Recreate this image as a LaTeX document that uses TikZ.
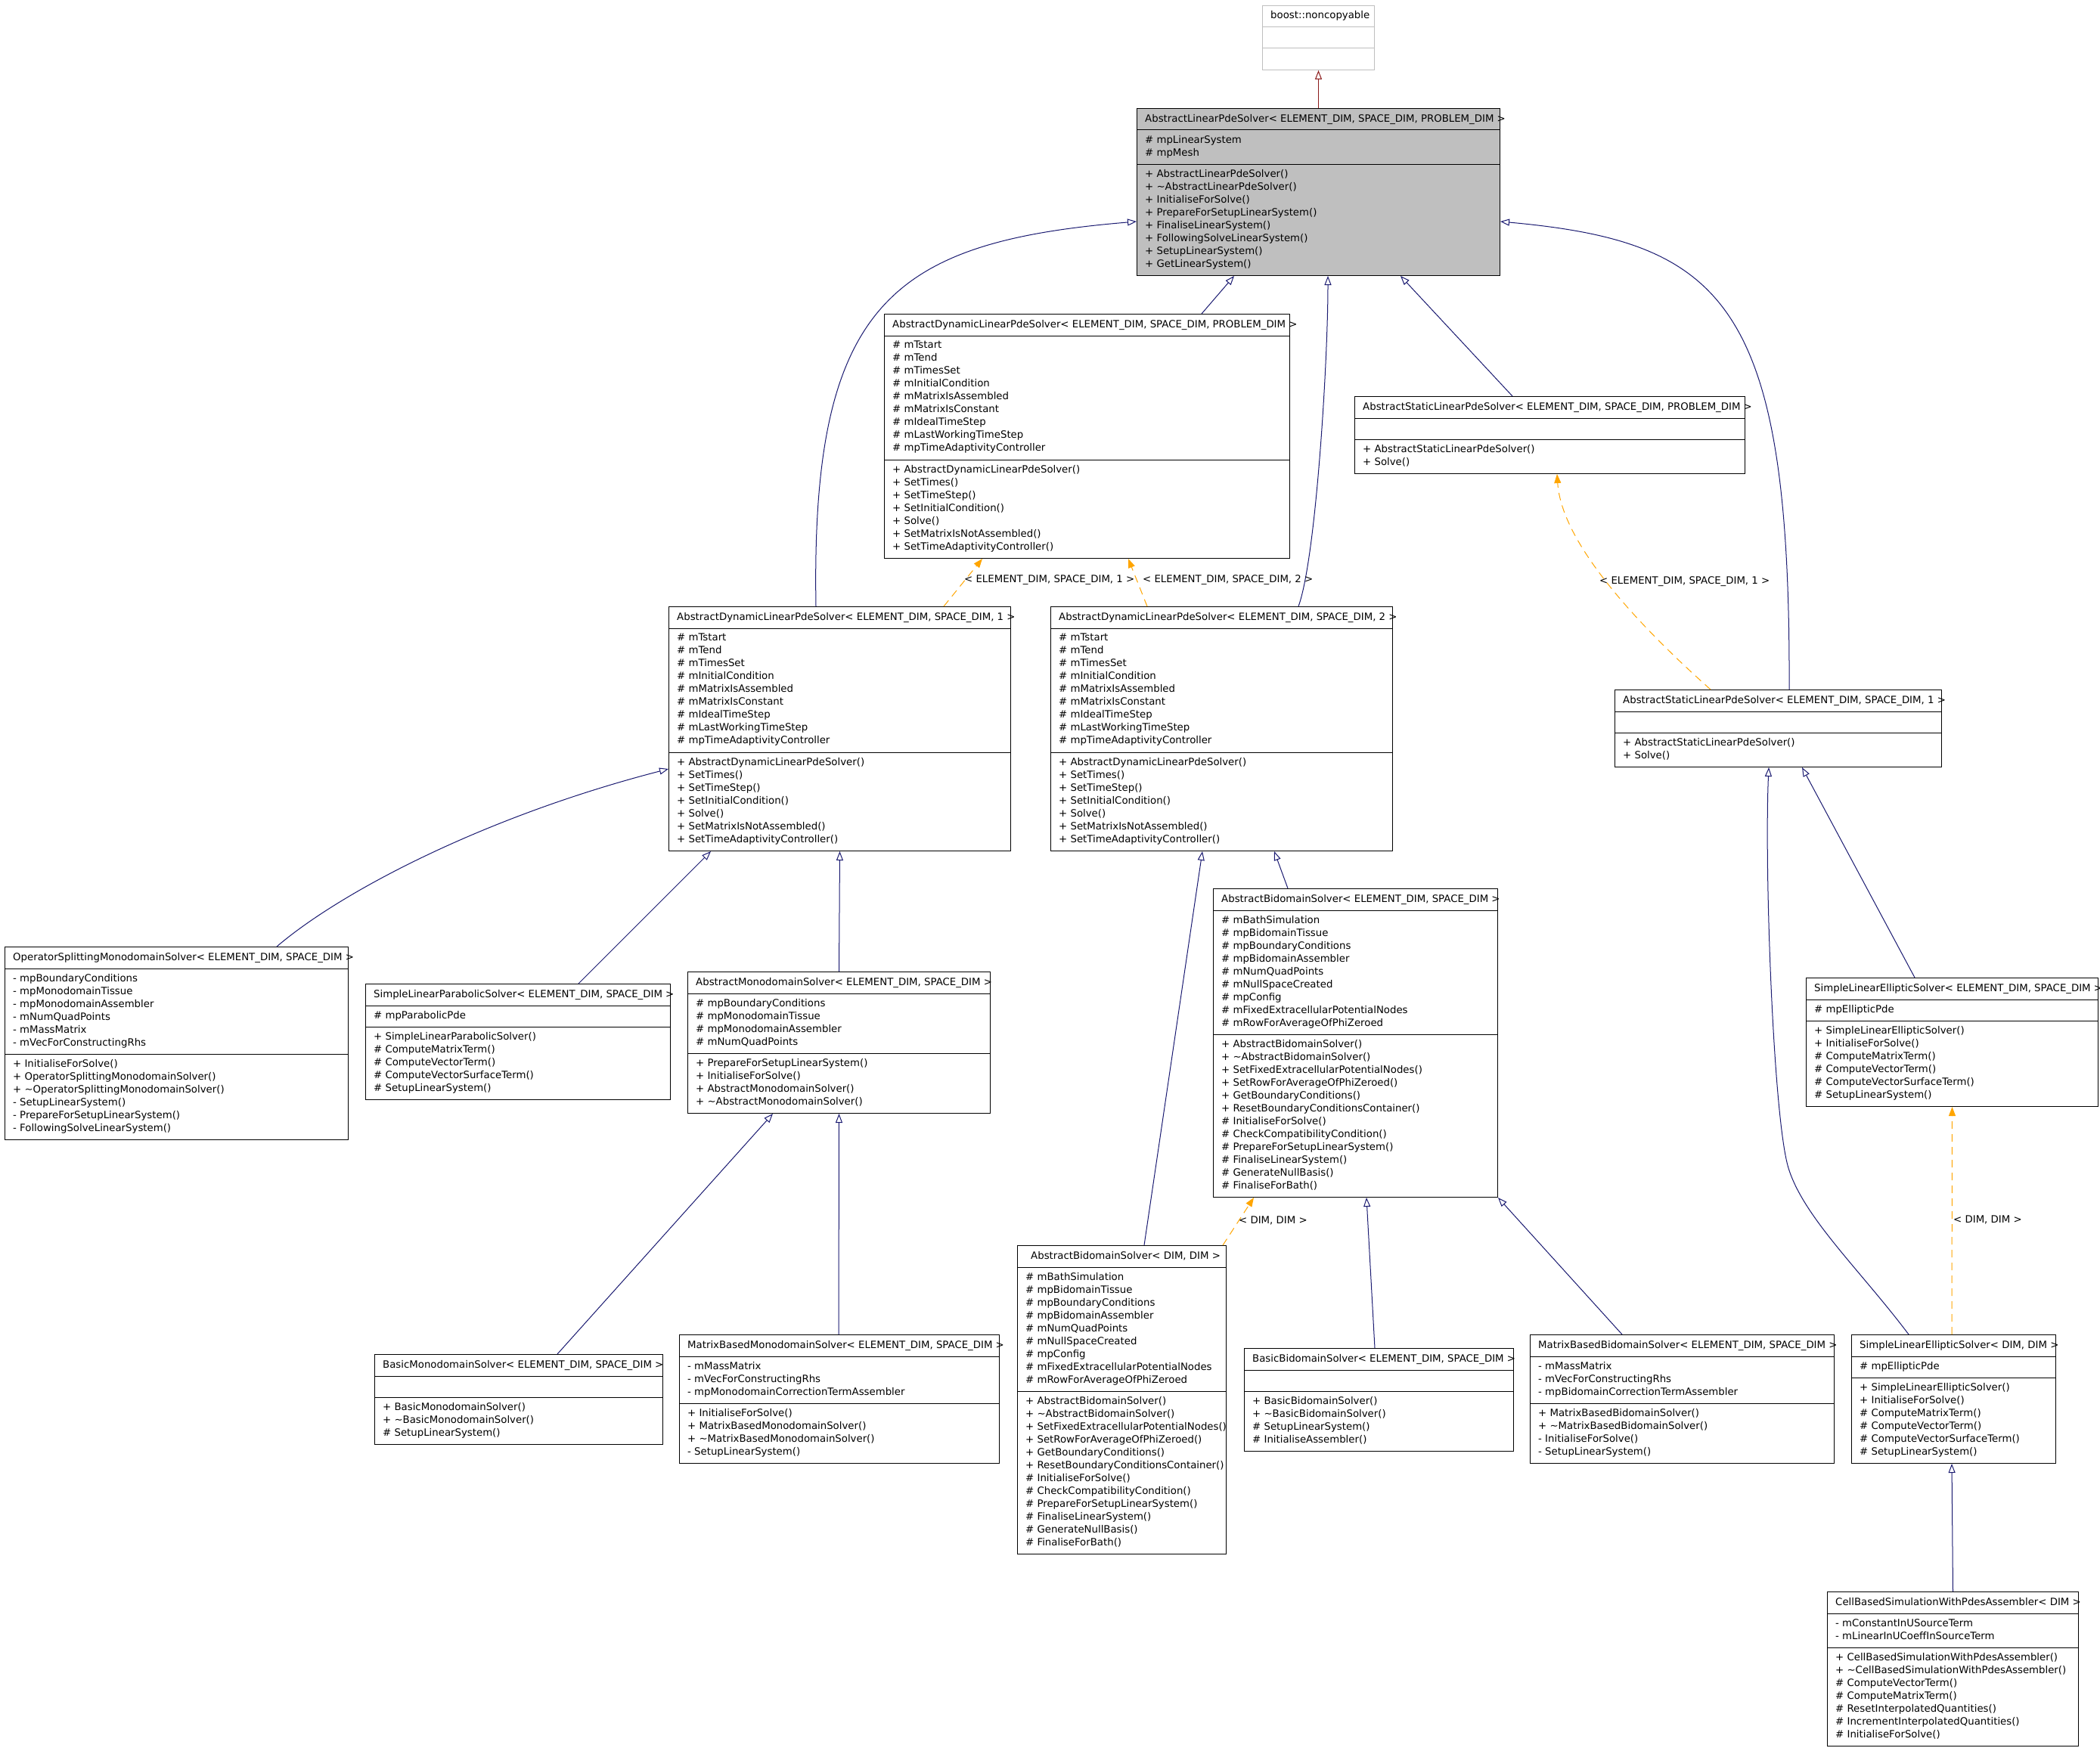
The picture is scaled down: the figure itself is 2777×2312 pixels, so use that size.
\documentclass[tikz,border=0pt]{standalone}
\usepackage{fontspec}
\setmainfont{DejaVu Sans}
\usetikzlibrary{arrows.meta}
\definecolor{inhblue}{HTML}{191970}
\definecolor{privred}{HTML}{8B1A1A}
\definecolor{tplorange}{HTML}{FFA500}
\definecolor{boxgray}{HTML}{BFBFBF}

\begin{document}
\begin{tikzpicture}[x=1pt, y=-1pt, font=\fontsize{13.3}{17}\selectfont,
    cls/.style={draw, line width=1pt, inner sep=0, anchor=north west},
    sep/.style={line width=1pt},
    ttl/.style={anchor=base west, inner sep=0},
    mem/.style={anchor=north west, inner sep=0, align=left},
    lbl/.style={anchor=base west, inner sep=0},
    inh/.style={inhblue, line width=1pt, -{Triangle[open, length=12pt, width=9pt]}},
    priv/.style={privred, line width=1pt, -{Triangle[open, length=12pt, width=9pt]}},
    tpl/.style={tplorange, line width=1pt, dash pattern=on 10pt off 7pt, -{Triangle[length=12pt, width=9pt]}}]
    \useasboundingbox (0,0) rectangle (2777,2312);

    \node[cls, draw=boxgray, minimum width=148, minimum height=85] (nonc) at (1669,7) {};
    \draw[sep, boxgray] ([yshift=-29]nonc.north west) -- ([yshift=-29]nonc.north east) ([yshift=-57]nonc.north west) -- ([yshift=-57]nonc.north east);
    \node[ttl] (nonc-t) at ([xshift=11,yshift=-18]nonc.north west) {boost::noncopyable};

    \node[cls, fill=boxgray, minimum width=480, minimum height=221] (als) at (1503,143) {};
    \draw[sep] ([yshift=-29]als.north west) -- ([yshift=-29]als.north east) ([yshift=-74]als.north west) -- ([yshift=-74]als.north east);
    \node[ttl] (als-t) at ([xshift=11,yshift=-18]als.north west) {AbstractLinearPdeSolver< ELEMENT\_DIM, SPACE\_DIM, PROBLEM\_DIM >};
    \node[mem] (als-a) at ([xshift=11,yshift=-36]als.north west) {\# mpLinearSystem\\\# mpMesh};
    \node[mem] (als-m) at ([xshift=11,yshift=-81]als.north west) {+ AbstractLinearPdeSolver()\\+ \textasciitilde AbstractLinearPdeSolver()\\+ InitialiseForSolve()\\+ PrepareForSetupLinearSystem()\\+ FinaliseLinearSystem()\\+ FollowingSolveLinearSystem()\\+ SetupLinearSystem()\\+ GetLinearSystem()};

    \node[cls, minimum width=536, minimum height=323] (dynP) at (1169,415) {};
    \draw[sep] ([yshift=-29]dynP.north west) -- ([yshift=-29]dynP.north east) ([yshift=-193]dynP.north west) -- ([yshift=-193]dynP.north east);
    \node[ttl] (dynP-t) at ([xshift=11,yshift=-18]dynP.north west) {AbstractDynamicLinearPdeSolver< ELEMENT\_DIM, SPACE\_DIM, PROBLEM\_DIM >};
    \node[mem] (dynP-a) at ([xshift=11,yshift=-36]dynP.north west) {\# mTstart\\\# mTend\\\# mTimesSet\\\# mInitialCondition\\\# mMatrixIsAssembled\\\# mMatrixIsConstant\\\# mIdealTimeStep\\\# mLastWorkingTimeStep\\\# mpTimeAdaptivityController};
    \node[mem] (dynP-m) at ([xshift=11,yshift=-200]dynP.north west) {+ AbstractDynamicLinearPdeSolver()\\+ SetTimes()\\+ SetTimeStep()\\+ SetInitialCondition()\\+ Solve()\\+ SetMatrixIsNotAssembled()\\+ SetTimeAdaptivityController()};

    \node[cls, minimum width=516, minimum height=102] (statP) at (1791,524) {};
    \draw[sep] ([yshift=-29]statP.north west) -- ([yshift=-29]statP.north east) ([yshift=-57]statP.north west) -- ([yshift=-57]statP.north east);
    \node[ttl] (statP-t) at ([xshift=11,yshift=-18]statP.north west) {AbstractStaticLinearPdeSolver< ELEMENT\_DIM, SPACE\_DIM, PROBLEM\_DIM >};
    \node[mem] (statP-m) at ([xshift=11,yshift=-64]statP.north west) {+ AbstractStaticLinearPdeSolver()\\+ Solve()};

    \node[cls, minimum width=452, minimum height=323] (dyn1) at (884,802) {};
    \draw[sep] ([yshift=-29]dyn1.north west) -- ([yshift=-29]dyn1.north east) ([yshift=-193]dyn1.north west) -- ([yshift=-193]dyn1.north east);
    \node[ttl] (dyn1-t) at ([xshift=11,yshift=-18]dyn1.north west) {AbstractDynamicLinearPdeSolver< ELEMENT\_DIM, SPACE\_DIM, 1 >};
    \node[mem] (dyn1-a) at ([xshift=11,yshift=-36]dyn1.north west) {\# mTstart\\\# mTend\\\# mTimesSet\\\# mInitialCondition\\\# mMatrixIsAssembled\\\# mMatrixIsConstant\\\# mIdealTimeStep\\\# mLastWorkingTimeStep\\\# mpTimeAdaptivityController};
    \node[mem] (dyn1-m) at ([xshift=11,yshift=-200]dyn1.north west) {+ AbstractDynamicLinearPdeSolver()\\+ SetTimes()\\+ SetTimeStep()\\+ SetInitialCondition()\\+ Solve()\\+ SetMatrixIsNotAssembled()\\+ SetTimeAdaptivityController()};

    \node[cls, minimum width=452, minimum height=323] (dyn2) at (1389,802) {};
    \draw[sep] ([yshift=-29]dyn2.north west) -- ([yshift=-29]dyn2.north east) ([yshift=-193]dyn2.north west) -- ([yshift=-193]dyn2.north east);
    \node[ttl] (dyn2-t) at ([xshift=11,yshift=-18]dyn2.north west) {AbstractDynamicLinearPdeSolver< ELEMENT\_DIM, SPACE\_DIM, 2 >};
    \node[mem] (dyn2-a) at ([xshift=11,yshift=-36]dyn2.north west) {\# mTstart\\\# mTend\\\# mTimesSet\\\# mInitialCondition\\\# mMatrixIsAssembled\\\# mMatrixIsConstant\\\# mIdealTimeStep\\\# mLastWorkingTimeStep\\\# mpTimeAdaptivityController};
    \node[mem] (dyn2-m) at ([xshift=11,yshift=-200]dyn2.north west) {+ AbstractDynamicLinearPdeSolver()\\+ SetTimes()\\+ SetTimeStep()\\+ SetInitialCondition()\\+ Solve()\\+ SetMatrixIsNotAssembled()\\+ SetTimeAdaptivityController()};

    \node[cls, minimum width=432, minimum height=102] (stat1) at (2135,912) {};
    \draw[sep] ([yshift=-29]stat1.north west) -- ([yshift=-29]stat1.north east) ([yshift=-57]stat1.north west) -- ([yshift=-57]stat1.north east);
    \node[ttl] (stat1-t) at ([xshift=11,yshift=-18]stat1.north west) {AbstractStaticLinearPdeSolver< ELEMENT\_DIM, SPACE\_DIM, 1 >};
    \node[mem] (stat1-m) at ([xshift=11,yshift=-64]stat1.north west) {+ AbstractStaticLinearPdeSolver()\\+ Solve()};

    \node[cls, minimum width=454, minimum height=255] (opsplit) at (6,1252) {};
    \draw[sep] ([yshift=-29]opsplit.north west) -- ([yshift=-29]opsplit.north east) ([yshift=-142]opsplit.north west) -- ([yshift=-142]opsplit.north east);
    \node[ttl] (opsplit-t) at ([xshift=11,yshift=-18]opsplit.north west) {OperatorSplittingMonodomainSolver< ELEMENT\_DIM, SPACE\_DIM >};
    \node[mem] (opsplit-a) at ([xshift=11,yshift=-36]opsplit.north west) {- mpBoundaryConditions\\- mpMonodomainTissue\\- mpMonodomainAssembler\\- mNumQuadPoints\\- mMassMatrix\\- mVecForConstructingRhs};
    \node[mem] (opsplit-m) at ([xshift=11,yshift=-149]opsplit.north west) {+ InitialiseForSolve()\\+ OperatorSplittingMonodomainSolver()\\+ \textasciitilde OperatorSplittingMonodomainSolver()\\- SetupLinearSystem()\\- PrepareForSetupLinearSystem()\\- FollowingSolveLinearSystem()};

    \node[cls, minimum width=403, minimum height=153] (slparab) at (483,1301) {};
    \draw[sep] ([yshift=-29]slparab.north west) -- ([yshift=-29]slparab.north east) ([yshift=-57]slparab.north west) -- ([yshift=-57]slparab.north east);
    \node[ttl] (slparab-t) at ([xshift=11,yshift=-18]slparab.north west) {SimpleLinearParabolicSolver< ELEMENT\_DIM, SPACE\_DIM >};
    \node[mem] (slparab-a) at ([xshift=11,yshift=-36]slparab.north west) {\# mpParabolicPde};
    \node[mem] (slparab-m) at ([xshift=11,yshift=-64]slparab.north west) {+ SimpleLinearParabolicSolver()\\\# ComputeMatrixTerm()\\\# ComputeVectorTerm()\\\# ComputeVectorSurfaceTerm()\\\# SetupLinearSystem()};

    \node[cls, minimum width=400, minimum height=187] (absmono) at (909,1285) {};
    \draw[sep] ([yshift=-29]absmono.north west) -- ([yshift=-29]absmono.north east) ([yshift=-108]absmono.north west) -- ([yshift=-108]absmono.north east);
    \node[ttl] (absmono-t) at ([xshift=11,yshift=-18]absmono.north west) {AbstractMonodomainSolver< ELEMENT\_DIM, SPACE\_DIM >};
    \node[mem] (absmono-a) at ([xshift=11,yshift=-36]absmono.north west) {\# mpBoundaryConditions\\\# mpMonodomainTissue\\\# mpMonodomainAssembler\\\# mNumQuadPoints};
    \node[mem] (absmono-m) at ([xshift=11,yshift=-115]absmono.north west) {+ PrepareForSetupLinearSystem()\\+ InitialiseForSolve()\\+ AbstractMonodomainSolver()\\+ \textasciitilde AbstractMonodomainSolver()};

    \node[cls, minimum width=376, minimum height=408] (absbiES) at (1604,1175) {};
    \draw[sep] ([yshift=-29]absbiES.north west) -- ([yshift=-29]absbiES.north east) ([yshift=-193]absbiES.north west) -- ([yshift=-193]absbiES.north east);
    \node[ttl] (absbiES-t) at ([xshift=11,yshift=-18]absbiES.north west) {AbstractBidomainSolver< ELEMENT\_DIM, SPACE\_DIM >};
    \node[mem] (absbiES-a) at ([xshift=11,yshift=-36]absbiES.north west) {\# mBathSimulation\\\# mpBidomainTissue\\\# mpBoundaryConditions\\\# mpBidomainAssembler\\\# mNumQuadPoints\\\# mNullSpaceCreated\\\# mpConfig\\\# mFixedExtracellularPotentialNodes\\\# mRowForAverageOfPhiZeroed};
    \node[mem] (absbiES-m) at ([xshift=11,yshift=-200]absbiES.north west) {+ AbstractBidomainSolver()\\+ \textasciitilde AbstractBidomainSolver()\\+ SetFixedExtracellularPotentialNodes()\\+ SetRowForAverageOfPhiZeroed()\\+ GetBoundaryConditions()\\+ ResetBoundaryConditionsContainer()\\\# InitialiseForSolve()\\\# CheckCompatibilityCondition()\\\# PrepareForSetupLinearSystem()\\\# FinaliseLinearSystem()\\\# GenerateNullBasis()\\\# FinaliseForBath()};

    \node[cls, minimum width=386, minimum height=170] (slellES) at (2388,1293) {};
    \draw[sep] ([yshift=-29]slellES.north west) -- ([yshift=-29]slellES.north east) ([yshift=-57]slellES.north west) -- ([yshift=-57]slellES.north east);
    \node[ttl] (slellES-t) at ([xshift=11,yshift=-18]slellES.north west) {SimpleLinearEllipticSolver< ELEMENT\_DIM, SPACE\_DIM >};
    \node[mem] (slellES-a) at ([xshift=11,yshift=-36]slellES.north west) {\# mpEllipticPde};
    \node[mem] (slellES-m) at ([xshift=11,yshift=-64]slellES.north west) {+ SimpleLinearEllipticSolver()\\+ InitialiseForSolve()\\\# ComputeMatrixTerm()\\\# ComputeVectorTerm()\\\# ComputeVectorSurfaceTerm()\\\# SetupLinearSystem()};

    \node[cls, minimum width=276, minimum height=408] (absbiDD) at (1345,1647) {};
    \draw[sep] ([yshift=-29]absbiDD.north west) -- ([yshift=-29]absbiDD.north east) ([yshift=-193]absbiDD.north west) -- ([yshift=-193]absbiDD.north east);
    \node[ttl] (absbiDD-t) at ([xshift=18,yshift=-18]absbiDD.north west) {AbstractBidomainSolver< DIM, DIM >};
    \node[mem] (absbiDD-a) at ([xshift=11,yshift=-36]absbiDD.north west) {\# mBathSimulation\\\# mpBidomainTissue\\\# mpBoundaryConditions\\\# mpBidomainAssembler\\\# mNumQuadPoints\\\# mNullSpaceCreated\\\# mpConfig\\\# mFixedExtracellularPotentialNodes\\\# mRowForAverageOfPhiZeroed};
    \node[mem] (absbiDD-m) at ([xshift=11,yshift=-200]absbiDD.north west) {+ AbstractBidomainSolver()\\+ \textasciitilde AbstractBidomainSolver()\\+ SetFixedExtracellularPotentialNodes()\\+ SetRowForAverageOfPhiZeroed()\\+ GetBoundaryConditions()\\+ ResetBoundaryConditionsContainer()\\\# InitialiseForSolve()\\\# CheckCompatibilityCondition()\\\# PrepareForSetupLinearSystem()\\\# FinaliseLinearSystem()\\\# GenerateNullBasis()\\\# FinaliseForBath()};

    \node[cls, minimum width=356, minimum height=136] (basicbi) at (1645,1783) {};
    \draw[sep] ([yshift=-29]basicbi.north west) -- ([yshift=-29]basicbi.north east) ([yshift=-57]basicbi.north west) -- ([yshift=-57]basicbi.north east);
    \node[ttl] (basicbi-t) at ([xshift=11,yshift=-18]basicbi.north west) {BasicBidomainSolver< ELEMENT\_DIM, SPACE\_DIM >};
    \node[mem] (basicbi-m) at ([xshift=11,yshift=-64]basicbi.north west) {+ BasicBidomainSolver()\\+ \textasciitilde BasicBidomainSolver()\\\# SetupLinearSystem()\\\# InitialiseAssembler()};

    \node[cls, minimum width=381, minimum height=119] (basicmono) at (495,1791) {};
    \draw[sep] ([yshift=-29]basicmono.north west) -- ([yshift=-29]basicmono.north east) ([yshift=-57]basicmono.north west) -- ([yshift=-57]basicmono.north east);
    \node[ttl] (basicmono-t) at ([xshift=11,yshift=-18]basicmono.north west) {BasicMonodomainSolver< ELEMENT\_DIM, SPACE\_DIM >};
    \node[mem] (basicmono-m) at ([xshift=11,yshift=-64]basicmono.north west) {+ BasicMonodomainSolver()\\+ \textasciitilde BasicMonodomainSolver()\\\# SetupLinearSystem()};

    \node[cls, minimum width=423, minimum height=170] (matmono) at (898,1765) {};
    \draw[sep] ([yshift=-29]matmono.north west) -- ([yshift=-29]matmono.north east) ([yshift=-91]matmono.north west) -- ([yshift=-91]matmono.north east);
    \node[ttl] (matmono-t) at ([xshift=11,yshift=-18]matmono.north west) {MatrixBasedMonodomainSolver< ELEMENT\_DIM, SPACE\_DIM >};
    \node[mem] (matmono-a) at ([xshift=11,yshift=-36]matmono.north west) {- mMassMatrix\\- mVecForConstructingRhs\\- mpMonodomainCorrectionTermAssembler};
    \node[mem] (matmono-m) at ([xshift=11,yshift=-98]matmono.north west) {+ InitialiseForSolve()\\+ MatrixBasedMonodomainSolver()\\+ \textasciitilde MatrixBasedMonodomainSolver()\\- SetupLinearSystem()};

    \node[cls, minimum width=402, minimum height=170] (matbi) at (2023,1765) {};
    \draw[sep] ([yshift=-29]matbi.north west) -- ([yshift=-29]matbi.north east) ([yshift=-91]matbi.north west) -- ([yshift=-91]matbi.north east);
    \node[ttl] (matbi-t) at ([xshift=11,yshift=-18]matbi.north west) {MatrixBasedBidomainSolver< ELEMENT\_DIM, SPACE\_DIM >};
    \node[mem] (matbi-a) at ([xshift=11,yshift=-36]matbi.north west) {- mMassMatrix\\- mVecForConstructingRhs\\- mpBidomainCorrectionTermAssembler};
    \node[mem] (matbi-m) at ([xshift=11,yshift=-98]matbi.north west) {+ MatrixBasedBidomainSolver()\\+ \textasciitilde MatrixBasedBidomainSolver()\\- InitialiseForSolve()\\- SetupLinearSystem()};

    \node[cls, minimum width=270, minimum height=170] (slellDD) at (2448,1765) {};
    \draw[sep] ([yshift=-29]slellDD.north west) -- ([yshift=-29]slellDD.north east) ([yshift=-57]slellDD.north west) -- ([yshift=-57]slellDD.north east);
    \node[ttl] (slellDD-t) at ([xshift=11,yshift=-18]slellDD.north west) {SimpleLinearEllipticSolver< DIM, DIM >};
    \node[mem] (slellDD-a) at ([xshift=11,yshift=-36]slellDD.north west) {\# mpEllipticPde};
    \node[mem] (slellDD-m) at ([xshift=11,yshift=-64]slellDD.north west) {+ SimpleLinearEllipticSolver()\\+ InitialiseForSolve()\\\# ComputeMatrixTerm()\\\# ComputeVectorTerm()\\\# ComputeVectorSurfaceTerm()\\\# SetupLinearSystem()};

    \node[cls, minimum width=332, minimum height=204] (cellb) at (2416,2105) {};
    \draw[sep] ([yshift=-29]cellb.north west) -- ([yshift=-29]cellb.north east) ([yshift=-74]cellb.north west) -- ([yshift=-74]cellb.north east);
    \node[ttl] (cellb-t) at ([xshift=11,yshift=-18]cellb.north west) {CellBasedSimulationWithPdesAssembler< DIM >};
    \node[mem] (cellb-a) at ([xshift=11,yshift=-36]cellb.north west) {- mConstantInUSourceTerm\\- mLinearInUCoeffInSourceTerm};
    \node[mem] (cellb-m) at ([xshift=11,yshift=-81]cellb.north west) {+ CellBasedSimulationWithPdesAssembler()\\+ \textasciitilde CellBasedSimulationWithPdesAssembler()\\\# ComputeVectorTerm()\\\# ComputeMatrixTerm()\\\# ResetInterpolatedQuantities()\\\# IncrementInterpolatedQuantities()\\\# InitialiseForSolve()};

    \draw[priv] (als.north) -- (nonc.south);
    \draw[inh] ([xshift=420]dynP.north west) -- ([xshift=129]als.south west);
    \draw[inh] ([xshift=328]dyn2.north west) .. controls (1740,740) and (1756,480) .. ([xshift=253]als.south west);
    \draw[inh] ([xshift=209]statP.north west) -- ([xshift=349]als.south west);
    \draw[inh] ([xshift=195]dyn1.north west) .. controls (1072,400) and (1180,320) .. ([yshift=-150]als.north west);
    \draw[inh] ([xshift=231]stat1.north west) .. controls (2368,400) and (2280,320) .. ([yshift=-150]als.north east);
    \draw[tpl] ([xshift=364]dyn1.north west) -- ([xshift=130]dynP.south west);
    \draw[tpl] ([xshift=128]dyn2.north west) -- ([xshift=323]dynP.south west);
    \draw[tpl] ([xshift=127]stat1.north west) .. controls (2170,830) and (2065,720) .. ([xshift=268]statP.south west);
    \draw[inh] ([xshift=360]opsplit.north west) .. controls (450,1180) and (640,1080) .. ([yshift=-215]dyn1.north west);
    \draw[inh] ([xshift=282]slparab.north west) -- ([xshift=56]dyn1.south west);
    \draw[inh] (absmono.north) -- (dyn1.south);
    \draw[inh] ([xshift=99]absbiES.north west) -- ([xshift=296]dyn2.south west);
    \draw[inh] ([xshift=168]absbiDD.north west) -- ([xshift=201]dyn2.south west);
    \draw[tpl] ([xshift=272]absbiDD.north west) -- ([xshift=54]absbiES.south west);
    \draw[inh] ([xshift=242]basicmono.north west) -- ([xshift=113]absmono.south west);
    \draw[inh] ([xshift=211]matmono.north west) -- (absmono.south);
    \draw[inh] ([xshift=173]basicbi.north west) -- ([xshift=203]absbiES.south west);
    \draw[inh] ([xshift=122]matbi.north west) -- (absbiES.south east);
    \draw[inh] ([xshift=144]slellES.north west) -- ([xshift=248]stat1.south west);
    \draw[inh] ([xshift=76]slellDD.north west) .. controls (2460,1680) and (2385,1610) .. (2365,1545) .. controls (2345,1480) and (2333,1150) .. ([xshift=204]stat1.south west);
    \draw[tpl] ([xshift=133]slellDD.north west) -- (slellES.south);
    \draw[inh] (cellb.north) -- ([xshift=133]slellDD.south west);

    \node[lbl] (lbl-dyn1) at (1275,770) {< ELEMENT\_DIM, SPACE\_DIM, 1 >};
    \node[lbl] (lbl-dyn2) at (1511,770) {< ELEMENT\_DIM, SPACE\_DIM, 2 >};
    \node[lbl] (lbl-stat1) at (2115,772) {< ELEMENT\_DIM, SPACE\_DIM, 1 >};
    \node[lbl] (lbl-bidd) at (1638,1618) {< DIM, DIM >};
    \node[lbl] (lbl-ell) at (2583,1617) {< DIM, DIM >};
\end{tikzpicture}
\end{document}
